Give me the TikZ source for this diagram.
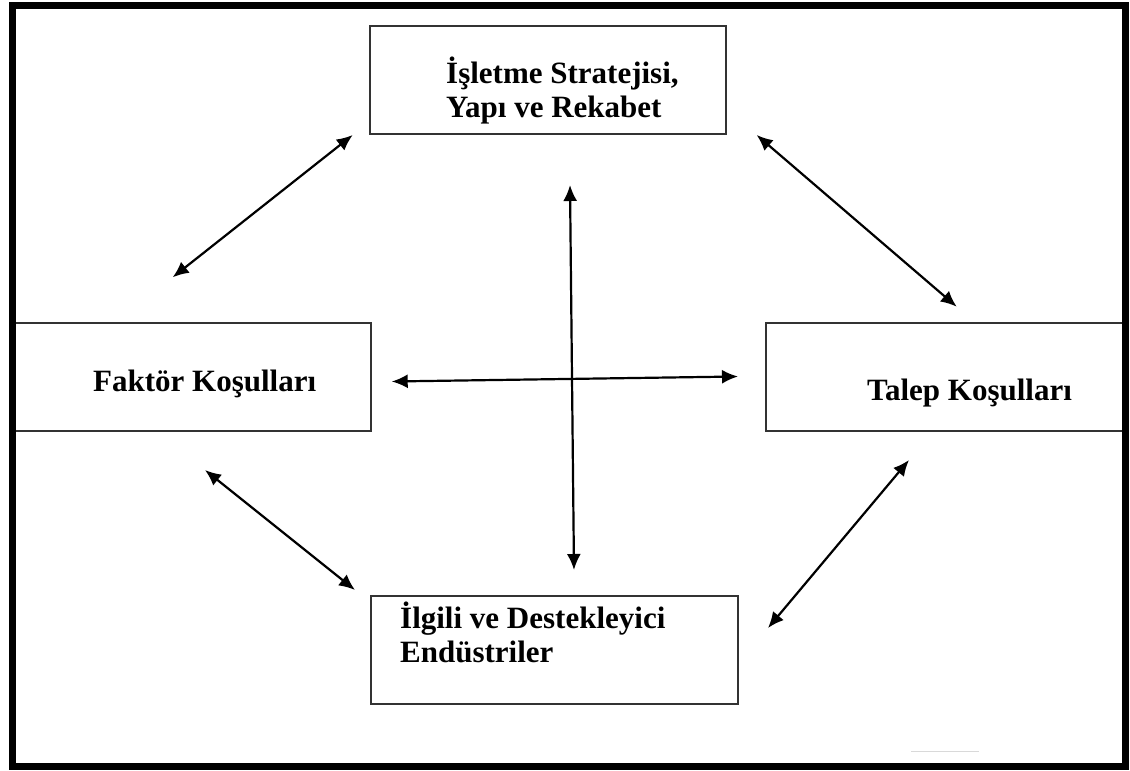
\documentclass[tikz,border=0pt]{standalone}
\usepackage{fontspec}
\setmainfont{Liberation Serif}
\usetikzlibrary{arrows.meta}

\tikzset{
  frameline/.style={line width=7pt, black},
  boxline/.style={line width=1.6pt, draw=black!80},
  label/.style={anchor=base west, inner sep=0pt, font=\fontsize{31}{34}\selectfont\bfseries},
  link/.style={line width=2.2pt, {Latex[length=16pt,width=14pt]}-{Latex[length=16pt,width=14pt]}},
}

\begin{document}
\begin{tikzpicture}[x=1pt, y=-1pt]
  \useasboundingbox (0,0) rectangle (1130,771);

  % the four boxes
  \draw[boxline] (370,26) rectangle (726,134);
  \draw[boxline] (12,323) rectangle (371,431);
  \draw[boxline] (766,323) rectangle (1125,431);
  \draw[boxline] (371,596) rectangle (738,704);

  % labels
  \node[label] (strat1) at (446,83) {İşletme Stratejisi,};
  \node[label] (strat2) at (446,117) {Yapı ve Rekabet};
  \node[label] (factor) at (93,391) {Faktör Koşulları};
  \node[label] (demand) at (867,400) {Talep Koşulları};
  \node[label] (rel1) at (400,628) {İlgili ve Destekleyici};
  \node[label] (rel2) at (400,662) {Endüstriler};

  % arrow end points
  \coordinate (tlA) at (352.7,135);
  \coordinate (tlB) at (172.7,277.3);
  \coordinate (trA) at (756.7,135);
  \coordinate (trB) at (956.7,306.7);
  \coordinate (hL) at (391.7,381.5);
  \coordinate (hR) at (738,376.5);
  \coordinate (vT) at (570,185);
  \coordinate (vB) at (574,570);
  \coordinate (blA) at (205,470);
  \coordinate (blB) at (355,590);
  \coordinate (brA) at (909,460);
  \coordinate (brB) at (768,628);

  % two-way links
  \draw[link] (tlA) -- (tlB);
  \draw[link] (trA) -- (trB);
  \draw[link] (hL) -- (hR);
  \draw[link] (vT) -- (vB);
  \draw[link] (blA) -- (blB);
  \draw[link] (brA) -- (brB);

  % faint rule near the bottom
  \coordinate (faintA) at (911,751.5);
  \coordinate (faintB) at (979,751.5);
  \draw[black!15, line width=1.5pt] (faintA) -- (faintB);

  % outer frame
  \draw[frameline] (12,5) rectangle (1125,766);
\end{tikzpicture}
\end{document}
